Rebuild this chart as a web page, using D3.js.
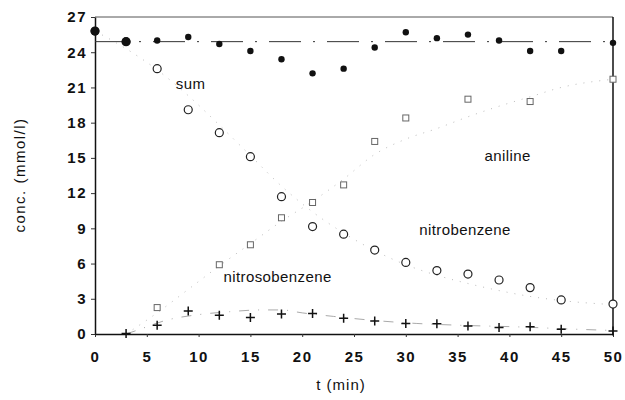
<!DOCTYPE html>
<html>
<head>
<meta charset="utf-8">
<script src="https://cdn.jsdelivr.net/npm/d3@7"></script>
<style>
  body { margin: 0; background: #fff; }
  svg { display: block; font-family: "Liberation Sans", Arial, sans-serif; }
</style>
</head>
<body>
<div id="chart"></div>
<script>
// sampling times (min)
const aTime = [0, 3, 6, 9, 12, 15, 18, 21, 24, 27, 30, 33, 36, 39, 42, 45, 50];
const aSum = [25.8, 24.9, 25.0, 25.3, 24.7, 24.1, 23.4, 22.2, 22.6, 24.4, 25.7, 25.2, 25.5, 25.0, 24.1, 24.1, 24.8];
const aNitrobenzene = [25.8, 24.9, 22.6, 19.1, 17.15, 15.1, 11.7, 9.15, 8.5, 7.15, 6.1, 5.4, 5.1, 4.6, 3.95, 2.9, 2.55];
const aNitroso = [0.05, 0.75, 1.95, 1.6, 1.4, 1.7, 1.75, 1.35, 1.1, 0.9, 0.88, 0.68, 0.55, 0.62, 0.4, 0.26];
const aNitrosoTime = [3, 6, 9, 12, 15, 18, 21, 24, 27, 30, 33, 36, 39, 42, 45, 50];
const aAnilineTime = [6, 12, 15, 18, 21, 24, 27, 30, 36, 42, 50];
const aAniline = [2.25, 5.9, 7.6, 9.9, 11.2, 12.7, 16.4, 18.4, 20.0, 19.8, 21.7];
// model curves (estimated from the dotted lines)
const aSumLevel = 24.9;
const aFitNitroT = [0, 3, 6, 9, 12, 15, 18, 21, 24, 27, 30, 33, 36, 39, 42, 45, 50];
const aFitNitro = [25.8, 24.3, 22.5, 20.3, 17.8, 15.2, 12.6, 10.4, 8.6, 7.1, 5.9, 5.0, 4.3, 3.7, 3.2, 2.85, 2.5];
const aFitAnilineT = [3, 6, 9, 12, 15, 18, 21, 24, 27, 30, 33, 36, 39, 42, 45, 50];
const aFitAniline = [0, 1.8, 3.8, 5.8, 7.7, 9.6, 11.3, 13.2, 15.3, 16.6, 17.5, 18.5, 19.4, 20.2, 21.0, 21.7];
const aFitNitrosoT = [3, 4, 7, 10, 13, 16, 18, 20, 23, 27, 31, 35, 41, 46, 50];
const aFitNitroso = [0, 0.3, 1.2, 1.65, 1.9, 2.05, 2.05, 1.8, 1.5, 1.15, 0.9, 0.75, 0.6, 0.42, 0.3];
// axis ticks
const aXTicks = [0, 5, 10, 15, 20, 25, 30, 35, 40, 45, 50];
const aYTicks = [0, 3, 6, 9, 12, 15, 18, 21, 24, 27];
// curve labels [text, t, conc]
const aLabels = [["sum", 7.8, 21.2], ["aniline", 37.6, 15.1], ["nitrobenzene", 31.3, 8.8], ["nitrosobenzene", 12.4, 4.8]];

const iWidth = 625, iHeight = 400;
const oMargin = { top: 17, right: 12, bottom: 66, left: 95 };

const d3Svg = d3.select("#chart").append("svg")
    .attr("width", iWidth).attr("height", iHeight);
d3Svg.append("rect").attr("width", iWidth).attr("height", iHeight).attr("fill", "#fff");

const x = d3.scaleLinear().domain([0, 50]).range([oMargin.left, iWidth - oMargin.right]);
const y = d3.scaleLinear().domain([0, 27]).range([iHeight - oMargin.bottom, oMargin.top]);

// frame: top and right
d3Svg.append("line").attr("x1", x(0)).attr("x2", x(50)).attr("y1", y(27)).attr("y2", y(27))
    .attr("stroke", "#555").attr("stroke-width", 1);
d3Svg.append("line").attr("x1", x(50)).attr("x2", x(50)).attr("y1", y(27)).attr("y2", y(0))
    .attr("stroke", "#111").attr("stroke-width", 1.5);

const gX = d3Svg.append("g").attr("transform", `translate(0,${y(0)})`)
    .call(d3.axisBottom(x).tickValues(aXTicks).tickSize(3).tickSizeOuter(0).tickPadding(14));
const gY = d3Svg.append("g").attr("transform", `translate(${x(0)},0)`)
    .call(d3.axisLeft(y).tickValues(aYTicks).tickSize(4).tickSizeOuter(0).tickPadding(4));
[gX, gY].forEach(g => {
    g.select(".domain").attr("stroke", "#111").attr("stroke-width", 1.5);
    g.selectAll(".tick line").attr("stroke", "#333");
    g.selectAll("text").attr("font-size", "15px").attr("font-weight", "bold")
        .attr("letter-spacing", "1.5px").attr("fill", "#111")
        .attr("font-family", "'Liberation Sans', Arial, sans-serif");
});

// model curves
const line = d3.line().x(d => x(d[0])).y(d => y(d[1])).curve(d3.curveMonotoneX);
d3Svg.append("path").datum([[0, aSumLevel], [50, aSumLevel]]).attr("d", line)
    .attr("fill", "none").attr("stroke", "#333").attr("stroke-width", 1)
    .attr("stroke-dasharray", "32,12,2,12");
d3Svg.append("path").datum(aFitNitroT.map((t, i) => [t, aFitNitro[i]])).attr("d", line)
    .attr("fill", "none").attr("stroke", "#bbb").attr("stroke-width", 1).attr("stroke-dasharray", "1,7");
d3Svg.append("path").datum(aFitAnilineT.map((t, i) => [t, aFitAniline[i]])).attr("d", line)
    .attr("fill", "none").attr("stroke", "#bbb").attr("stroke-width", 1).attr("stroke-dasharray", "1,7");
d3Svg.append("path").datum(aFitNitrosoT.map((t, i) => [t, aFitNitroso[i]])).attr("d", line)
    .attr("fill", "none").attr("stroke", "#aaa").attr("stroke-width", 1).attr("stroke-dasharray", "10,9,1,9");

// nitrobenzene: open circles
d3Svg.append("g").selectAll("circle").data(aTime.map((t, i) => [t, aNitrobenzene[i]])).enter()
    .append("circle").attr("cx", d => x(d[0])).attr("cy", d => y(d[1])).attr("r", 4)
    .attr("fill", "#fff").attr("stroke", "#222").attr("stroke-width", 1.2);

// aniline: open squares
d3Svg.append("g").selectAll("rect").data(aAnilineTime.map((t, i) => [t, aAniline[i]])).enter()
    .append("rect").attr("x", d => x(d[0]) - 3).attr("y", d => y(d[1]) - 3)
    .attr("width", 6).attr("height", 6)
    .attr("fill", "#fff").attr("stroke", "#666").attr("stroke-width", 1);

// nitrosobenzene: plus signs
d3Svg.append("g").selectAll("path").data(aNitrosoTime.map((t, i) => [t, aNitroso[i]])).enter()
    .append("path").attr("d", d => `M${x(d[0]) - 4.5},${y(d[1])}h9M${x(d[0])},${y(d[1]) - 4.5}v9`)
    .attr("stroke", "#111").attr("stroke-width", 1.5);

// sum: filled dots
d3Svg.append("g").selectAll("circle").data(aTime.map((t, i) => [t, aSum[i]])).enter()
    .append("circle").attr("cx", d => x(d[0])).attr("cy", d => y(d[1])).attr("r", (d, i) => i < 2 ? 4.4 : 3.2)
    .attr("fill", "#111");

// curve labels
d3Svg.append("g").selectAll("text").data(aLabels).enter()
    .append("text").text(a => a[0])
    .attr("x", a => x(a[1])).attr("y", a => y(a[2]))
    .attr("dominant-baseline", "middle")
    .attr("font-size", "15px").attr("letter-spacing", "0.4px").attr("fill", "#111");

// axis titles
d3Svg.append("text").text("t (min)")
    .attr("x", 341).attr("y", 390).attr("text-anchor", "middle")
    .attr("font-size", "15px").attr("letter-spacing", "1px").attr("fill", "#111");
d3Svg.append("text").text("conc. (mmol/l)")
    .attr("transform", "translate(25,175) rotate(-90)").attr("text-anchor", "middle")
    .attr("font-size", "15px").attr("letter-spacing", "1.5px").attr("fill", "#111");
</script>
</body>
</html>
